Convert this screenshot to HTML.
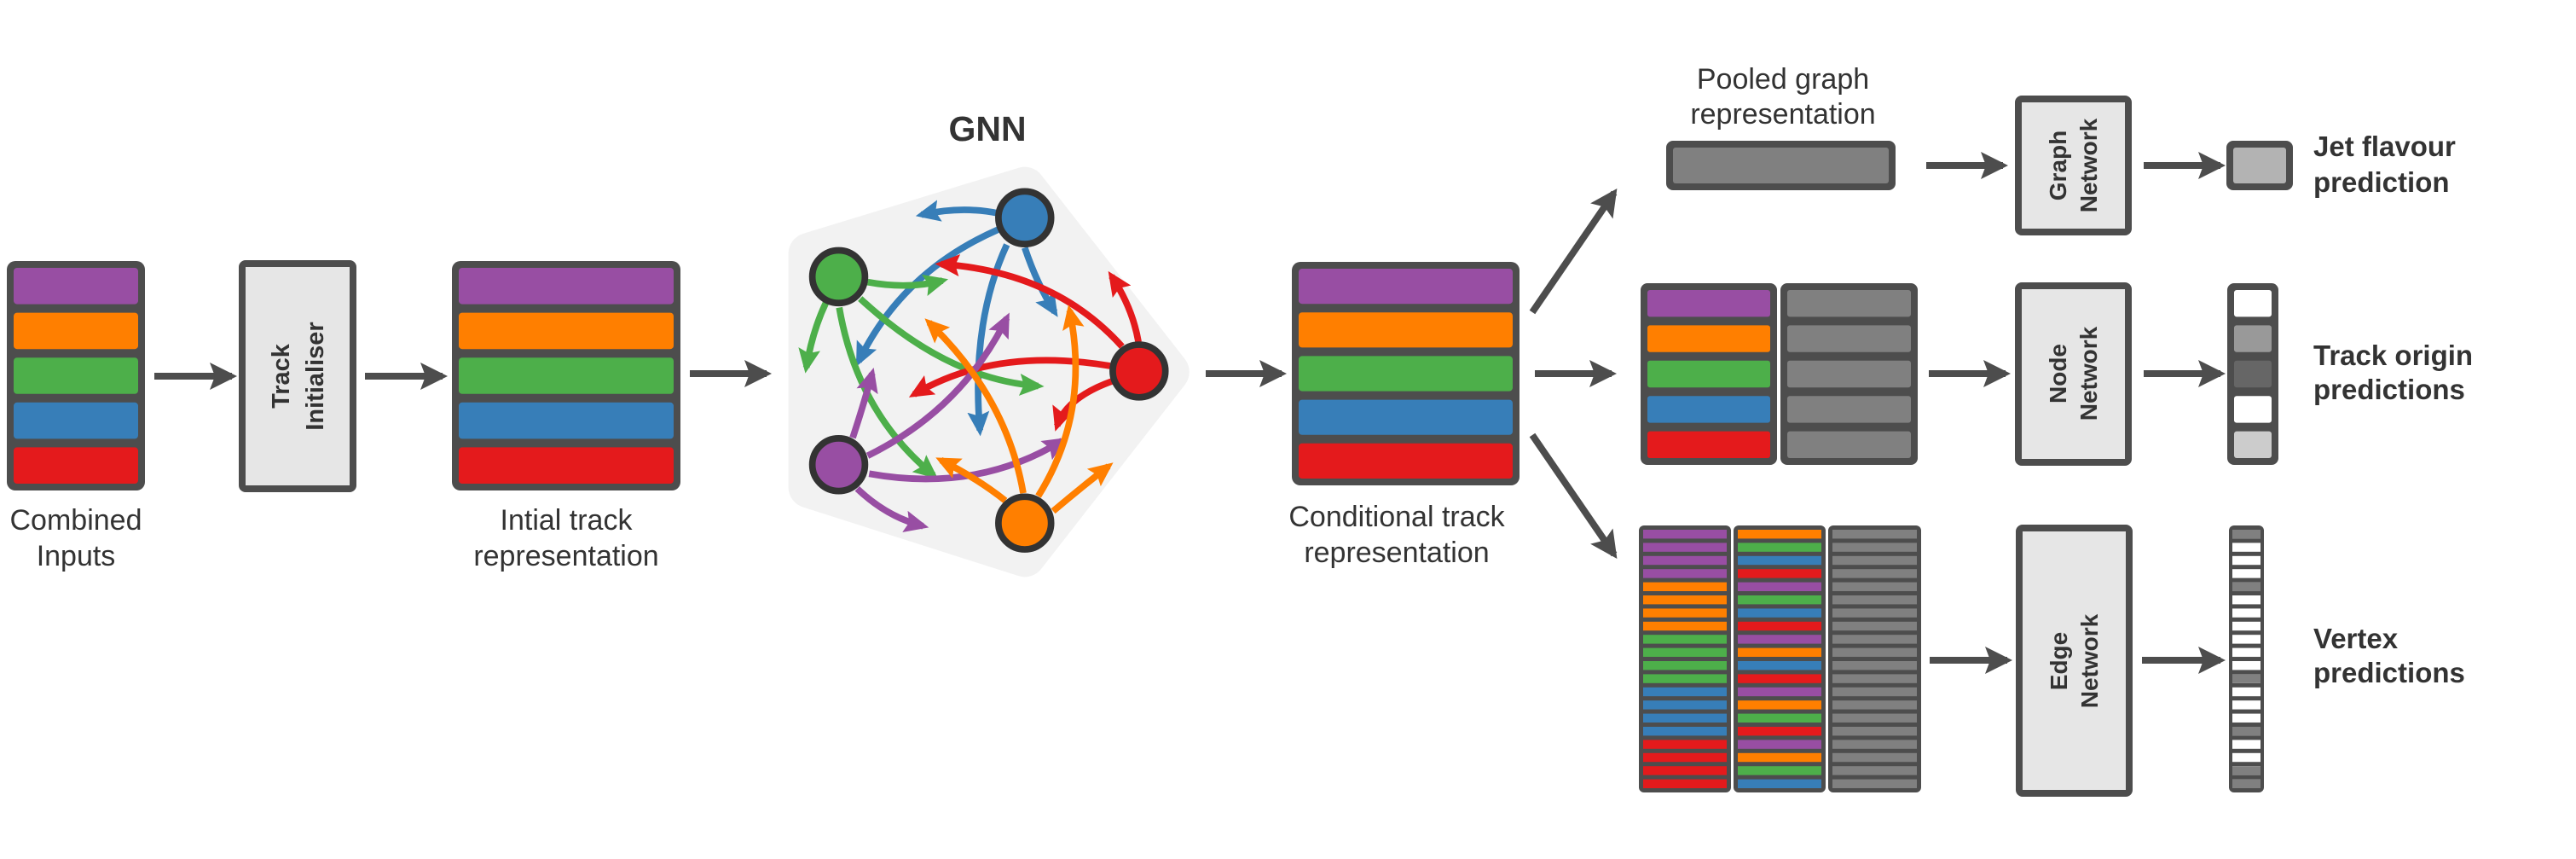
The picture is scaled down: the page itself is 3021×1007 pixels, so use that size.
<!DOCTYPE html>
<html><head><meta charset="utf-8"><style>
html,body{margin:0;padding:0;background:#fff;}
svg{display:block;}
text{font-family:"Liberation Sans",Arial,sans-serif;fill:#333;}
.l{font-size:34px;text-anchor:middle;}
.b{font-size:33px;font-weight:bold;}
.v{font-size:29px;font-weight:bold;text-anchor:middle;}
</style></head><body>
<svg width="3021" height="1007" viewBox="0 0 3021 1007" xmlns="http://www.w3.org/2000/svg">
<defs>
<marker id="mP" markerUnits="userSpaceOnUse" markerWidth="90" markerHeight="80" refX="62" refY="37" orient="auto"><path d="M0,0 L82,37 L0,74 L14,37 z" fill="#984ea3"/></marker>
<marker id="mO" markerUnits="userSpaceOnUse" markerWidth="90" markerHeight="80" refX="62" refY="37" orient="auto"><path d="M0,0 L82,37 L0,74 L14,37 z" fill="#ff7f00"/></marker>
<marker id="mG" markerUnits="userSpaceOnUse" markerWidth="90" markerHeight="80" refX="62" refY="37" orient="auto"><path d="M0,0 L82,37 L0,74 L14,37 z" fill="#4daf4a"/></marker>
<marker id="mB" markerUnits="userSpaceOnUse" markerWidth="90" markerHeight="80" refX="62" refY="37" orient="auto"><path d="M0,0 L82,37 L0,74 L14,37 z" fill="#377eb8"/></marker>
<marker id="mR" markerUnits="userSpaceOnUse" markerWidth="90" markerHeight="80" refX="62" refY="37" orient="auto"><path d="M0,0 L82,37 L0,74 L14,37 z" fill="#e41a1c"/></marker>
<marker id="mK" markerUnits="userSpaceOnUse" markerWidth="34" markerHeight="34" refX="26" refY="16" orient="auto"><path d="M0,0 L32,16 L0,32 L6,16 z" fill="#4d4d4d"/></marker>
<pattern id="gr" patternUnits="userSpaceOnUse" x="0" y="621" width="200" height="15.4"><rect x="0" y="0" width="200" height="10.4" fill="#808080"/></pattern>
<pattern id="wh" patternUnits="userSpaceOnUse" x="0" y="621" width="200" height="15.4"><rect x="0" y="0" width="200" height="10.4" fill="#ffffff"/></pattern>
</defs>

<!-- Stack A -->
<rect x="8" y="306" width="162" height="269" rx="10" fill="#4d4d4d"/>
<rect x="16" y="314" width="146" height="42.6" rx="4" fill="#984ea3"/>
<rect x="16" y="366.6" width="146" height="42.6" rx="4" fill="#ff7f00"/>
<rect x="16" y="419.2" width="146" height="42.6" rx="4" fill="#4daf4a"/>
<rect x="16" y="471.8" width="146" height="42.6" rx="4" fill="#377eb8"/>
<rect x="16" y="524.4" width="146" height="42.6" rx="4" fill="#e41a1c"/>
<text class="l" x="89" y="621">Combined</text>
<text class="l" x="89" y="663">Inputs</text>

<line x1="181" y1="441" x2="272" y2="441" stroke="#4d4d4d" stroke-width="8" marker-end="url(#mK)"/>

<rect x="284" y="309" width="130" height="264" rx="4" fill="#e6e6e6" stroke="#4d4d4d" stroke-width="8"/>
<g transform="translate(349,441) rotate(-90)">
<text class="v" x="0" y="-10">Track</text>
<text class="v" x="0" y="30">Initialiser</text>
</g>

<line x1="428" y1="441" x2="519" y2="441" stroke="#4d4d4d" stroke-width="8" marker-end="url(#mK)"/>

<!-- Stack B -->
<rect x="530" y="306" width="268" height="269" rx="10" fill="#4d4d4d"/>
<rect x="538" y="314" width="252" height="42.6" rx="4" fill="#984ea3"/>
<rect x="538" y="366.6" width="252" height="42.6" rx="4" fill="#ff7f00"/>
<rect x="538" y="419.2" width="252" height="42.6" rx="4" fill="#4daf4a"/>
<rect x="538" y="471.8" width="252" height="42.6" rx="4" fill="#377eb8"/>
<rect x="538" y="524.4" width="252" height="42.6" rx="4" fill="#e41a1c"/>
<text class="l" x="664" y="621">Intial track</text>
<text class="l" x="664" y="663">representation</text>

<line x1="809" y1="438" x2="899" y2="438" stroke="#4d4d4d" stroke-width="8" marker-end="url(#mK)"/>

<!-- GNN -->
<text x="1158" y="165" style="font-size:41px;font-weight:bold;text-anchor:middle">GNN</text>
<g transform="translate(900,150) scale(0.3509)">
<polygon points="860,200 140,420 140,1200 860,1430 1340,815" fill="#f2f2f2" stroke="#f2f2f2" stroke-width="140" stroke-linejoin="round"/>
<g fill="none" stroke-width="22">
<path d="M770,285 Q650,260 515,290" stroke="#377eb8" marker-end="url(#mB)"/>
<path d="M770,340 Q450,480 305,780" stroke="#377eb8" marker-end="url(#mB)"/>
<path d="M800,390 Q680,650 710,1010" stroke="#377eb8" marker-end="url(#mB)"/>
<path d="M860,400 Q900,520 960,615" stroke="#377eb8" marker-end="url(#mB)"/>
<path d="M335,515 Q470,540 585,510" stroke="#4daf4a" marker-end="url(#mG)"/>
<path d="M195,585 Q150,680 130,800" stroke="#4daf4a" marker-end="url(#mG)"/>
<path d="M240,600 Q300,950 555,1160" stroke="#4daf4a" marker-end="url(#mG)"/>
<path d="M310,570 Q600,840 905,862" stroke="#4daf4a" marker-end="url(#mG)"/>
<path d="M1185,730 Q960,480 580,455" stroke="#e41a1c" marker-end="url(#mR)"/>
<path d="M1240,715 Q1220,600 1150,495" stroke="#e41a1c" marker-end="url(#mR)"/>
<path d="M1145,795 Q760,730 490,890" stroke="#e41a1c" marker-end="url(#mR)"/>
<path d="M1155,845 Q1000,900 968,995" stroke="#e41a1c" marker-end="url(#mR)"/>
<path d="M285,1035 Q320,930 350,820" stroke="#984ea3" marker-end="url(#mP)"/>
<path d="M335,1095 Q650,940 800,635" stroke="#984ea3" marker-end="url(#mP)"/>
<path d="M340,1155 Q700,1220 985,1045" stroke="#984ea3" marker-end="url(#mP)"/>
<path d="M300,1205 Q400,1300 520,1330" stroke="#984ea3" marker-end="url(#mP)"/>
<path d="M855,1220 Q800,900 540,650" stroke="#ff7f00" marker-end="url(#mO)"/>
<path d="M905,1230 Q1080,950 1010,610" stroke="#ff7f00" marker-end="url(#mO)"/>
<path d="M795,1245 Q700,1170 580,1110" stroke="#ff7f00" marker-end="url(#mO)"/>
<path d="M955,1280 Q1050,1200 1140,1130" stroke="#ff7f00" marker-end="url(#mO)"/>
</g>
<g stroke="#333" stroke-width="22">
<circle cx="860" cy="300" r="88" fill="#377eb8"/>
<circle cx="238" cy="497" r="88" fill="#4daf4a"/>
<circle cx="1242" cy="812" r="88" fill="#e41a1c"/>
<circle cx="238" cy="1125" r="88" fill="#984ea3"/>
<circle cx="860" cy="1320" r="88" fill="#ff7f00"/>
</g>
</g>

<line x1="1414" y1="438" x2="1503" y2="438" stroke="#4d4d4d" stroke-width="8" marker-end="url(#mK)"/>

<!-- Stack C -->
<rect x="1515" y="307" width="267" height="262" rx="10" fill="#4d4d4d"/>
<rect x="1523" y="315" width="251" height="41.2" rx="4" fill="#984ea3"/>
<rect x="1523" y="366.2" width="251" height="41.2" rx="4" fill="#ff7f00"/>
<rect x="1523" y="417.4" width="251" height="41.2" rx="4" fill="#4daf4a"/>
<rect x="1523" y="468.6" width="251" height="41.2" rx="4" fill="#377eb8"/>
<rect x="1523" y="519.8" width="251" height="41.2" rx="4" fill="#e41a1c"/>
<text class="l" x="1638" y="617">Conditional track</text>
<text class="l" x="1638" y="659">representation</text>

<line x1="1797" y1="366" x2="1893" y2="226" stroke="#4d4d4d" stroke-width="8" marker-end="url(#mK)"/>
<line x1="1800" y1="438" x2="1890" y2="438" stroke="#4d4d4d" stroke-width="8" marker-end="url(#mK)"/>
<line x1="1797" y1="510" x2="1893" y2="650" stroke="#4d4d4d" stroke-width="8" marker-end="url(#mK)"/>

<!-- Top row -->
<text class="l" x="2091" y="104">Pooled graph</text>
<text class="l" x="2091" y="145">representation</text>
<rect x="1954" y="165" width="269" height="58" rx="8" fill="#4d4d4d"/>
<rect x="1962" y="173" width="253" height="42" rx="3" fill="#808080"/>
<line x1="2259" y1="194" x2="2349" y2="194" stroke="#4d4d4d" stroke-width="8" marker-end="url(#mK)"/>
<rect x="2367" y="116" width="129" height="156" rx="4" fill="#e6e6e6" stroke="#4d4d4d" stroke-width="8"/>
<g transform="translate(2431,194) rotate(-90)">
<text class="v" x="0" y="-8" style="font-size:28px">Graph</text>
<text class="v" x="0" y="28" style="font-size:28px">Network</text>
</g>
<line x1="2514" y1="194" x2="2604" y2="194" stroke="#4d4d4d" stroke-width="8" marker-end="url(#mK)"/>
<rect x="2611" y="165" width="78" height="58" rx="8" fill="#4d4d4d"/>
<rect x="2619" y="173" width="62" height="42" rx="3" fill="#b3b3b3"/>
<text class="b" x="2713" y="183">Jet flavour</text>
<text class="b" x="2713" y="225">prediction</text>

<!-- Middle row -->
<rect x="1924" y="332" width="160" height="213" rx="8" fill="#4d4d4d"/>
<rect x="1932" y="340" width="144" height="31.4" rx="3" fill="#984ea3"/>
<rect x="1932" y="381.4" width="144" height="31.4" rx="3" fill="#ff7f00"/>
<rect x="1932" y="422.8" width="144" height="31.4" rx="3" fill="#4daf4a"/>
<rect x="1932" y="464.2" width="144" height="31.4" rx="3" fill="#377eb8"/>
<rect x="1932" y="505.6" width="144" height="31.4" rx="3" fill="#e41a1c"/>
<rect x="2088" y="332" width="161" height="213" rx="8" fill="#4d4d4d"/>
<rect x="2096" y="340" width="145" height="31.4" rx="3" fill="#808080"/>
<rect x="2096" y="381.4" width="145" height="31.4" rx="3" fill="#808080"/>
<rect x="2096" y="422.8" width="145" height="31.4" rx="3" fill="#808080"/>
<rect x="2096" y="464.2" width="145" height="31.4" rx="3" fill="#808080"/>
<rect x="2096" y="505.6" width="145" height="31.4" rx="3" fill="#808080"/>
<line x1="2262" y1="438" x2="2352" y2="438" stroke="#4d4d4d" stroke-width="8" marker-end="url(#mK)"/>
<rect x="2367" y="335" width="129" height="207" rx="4" fill="#e6e6e6" stroke="#4d4d4d" stroke-width="8"/>
<g transform="translate(2431,438) rotate(-90)">
<text class="v" x="0" y="-8" style="font-size:28px">Node</text>
<text class="v" x="0" y="28" style="font-size:28px">Network</text>
</g>
<line x1="2514" y1="438" x2="2604" y2="438" stroke="#4d4d4d" stroke-width="8" marker-end="url(#mK)"/>
<rect x="2612" y="332" width="60" height="213" rx="8" fill="#4d4d4d"/>
<rect x="2620" y="340" width="44" height="31.4" rx="3" fill="#ffffff"/>
<rect x="2620" y="381.4" width="44" height="31.4" rx="3" fill="#999999"/>
<rect x="2620" y="422.8" width="44" height="31.4" rx="3" fill="#666666"/>
<rect x="2620" y="464.2" width="44" height="31.4" rx="3" fill="#ffffff"/>
<rect x="2620" y="505.6" width="44" height="31.4" rx="3" fill="#cccccc"/>
<text class="b" x="2713" y="428">Track origin</text>
<text class="b" x="2713" y="468">predictions</text>

<!-- Bottom row: edge matrix -->
<rect x="1922" y="616" width="108" height="313" rx="6" fill="#4d4d4d"/>
<rect x="2033" y="616" width="108" height="313" rx="6" fill="#4d4d4d"/>
<rect x="2144" y="616" width="109" height="313" rx="6" fill="#4d4d4d"/>
<rect x="2149" y="621" width="99" height="303" fill="url(#gr)"/>
<g>
<rect x="1927" y="621" width="98" height="10.4" fill="#984ea3"/>
<rect x="1927" y="636.4" width="98" height="10.4" fill="#984ea3"/>
<rect x="1927" y="651.8" width="98" height="10.4" fill="#984ea3"/>
<rect x="1927" y="667.2" width="98" height="10.4" fill="#984ea3"/>
<rect x="1927" y="682.6" width="98" height="10.4" fill="#ff7f00"/>
<rect x="1927" y="698" width="98" height="10.4" fill="#ff7f00"/>
<rect x="1927" y="713.4" width="98" height="10.4" fill="#ff7f00"/>
<rect x="1927" y="728.8" width="98" height="10.4" fill="#ff7f00"/>
<rect x="1927" y="744.2" width="98" height="10.4" fill="#4daf4a"/>
<rect x="1927" y="759.6" width="98" height="10.4" fill="#4daf4a"/>
<rect x="1927" y="775" width="98" height="10.4" fill="#4daf4a"/>
<rect x="1927" y="790.4" width="98" height="10.4" fill="#4daf4a"/>
<rect x="1927" y="805.8" width="98" height="10.4" fill="#377eb8"/>
<rect x="1927" y="821.2" width="98" height="10.4" fill="#377eb8"/>
<rect x="1927" y="836.6" width="98" height="10.4" fill="#377eb8"/>
<rect x="1927" y="852" width="98" height="10.4" fill="#377eb8"/>
<rect x="1927" y="867.4" width="98" height="10.4" fill="#e41a1c"/>
<rect x="1927" y="882.8" width="98" height="10.4" fill="#e41a1c"/>
<rect x="1927" y="898.2" width="98" height="10.4" fill="#e41a1c"/>
<rect x="1927" y="913.6" width="98" height="10.4" fill="#e41a1c"/>
</g>
<g>
<rect x="2038" y="621" width="98" height="10.4" fill="#ff7f00"/>
<rect x="2038" y="636.4" width="98" height="10.4" fill="#4daf4a"/>
<rect x="2038" y="651.8" width="98" height="10.4" fill="#377eb8"/>
<rect x="2038" y="667.2" width="98" height="10.4" fill="#e41a1c"/>
<rect x="2038" y="682.6" width="98" height="10.4" fill="#984ea3"/>
<rect x="2038" y="698" width="98" height="10.4" fill="#4daf4a"/>
<rect x="2038" y="713.4" width="98" height="10.4" fill="#377eb8"/>
<rect x="2038" y="728.8" width="98" height="10.4" fill="#e41a1c"/>
<rect x="2038" y="744.2" width="98" height="10.4" fill="#984ea3"/>
<rect x="2038" y="759.6" width="98" height="10.4" fill="#ff7f00"/>
<rect x="2038" y="775" width="98" height="10.4" fill="#377eb8"/>
<rect x="2038" y="790.4" width="98" height="10.4" fill="#e41a1c"/>
<rect x="2038" y="805.8" width="98" height="10.4" fill="#984ea3"/>
<rect x="2038" y="821.2" width="98" height="10.4" fill="#ff7f00"/>
<rect x="2038" y="836.6" width="98" height="10.4" fill="#4daf4a"/>
<rect x="2038" y="852" width="98" height="10.4" fill="#e41a1c"/>
<rect x="2038" y="867.4" width="98" height="10.4" fill="#984ea3"/>
<rect x="2038" y="882.8" width="98" height="10.4" fill="#ff7f00"/>
<rect x="2038" y="898.2" width="98" height="10.4" fill="#4daf4a"/>
<rect x="2038" y="913.6" width="98" height="10.4" fill="#377eb8"/>
</g>
<line x1="2263" y1="774" x2="2354" y2="774" stroke="#4d4d4d" stroke-width="8" marker-end="url(#mK)"/>
<rect x="2368" y="619" width="129" height="311" rx="4" fill="#e6e6e6" stroke="#4d4d4d" stroke-width="8"/>
<g transform="translate(2432,775) rotate(-90)">
<text class="v" x="0" y="-8" style="font-size:28px">Edge</text>
<text class="v" x="0" y="28" style="font-size:28px">Network</text>
</g>
<line x1="2512" y1="774" x2="2604" y2="774" stroke="#4d4d4d" stroke-width="8" marker-end="url(#mK)"/>
<rect x="2614" y="616" width="41" height="313" rx="6" fill="#4d4d4d"/>
<rect x="2618" y="621" width="33" height="303" fill="url(#wh)"/>
<rect x="2618" y="621" width="33" height="10.4" fill="#808080"/>
<rect x="2618" y="682.6" width="33" height="10.4" fill="#808080"/>
<rect x="2618" y="790.4" width="33" height="10.4" fill="#808080"/>
<rect x="2618" y="852" width="33" height="10.4" fill="#808080"/>
<rect x="2618" y="898.2" width="33" height="10.4" fill="#808080"/>
<rect x="2618" y="913.6" width="33" height="10.4" fill="#808080"/>
<text class="b" x="2713" y="760">Vertex</text>
<text class="b" x="2713" y="800">predictions</text>
</svg>
</body></html>
